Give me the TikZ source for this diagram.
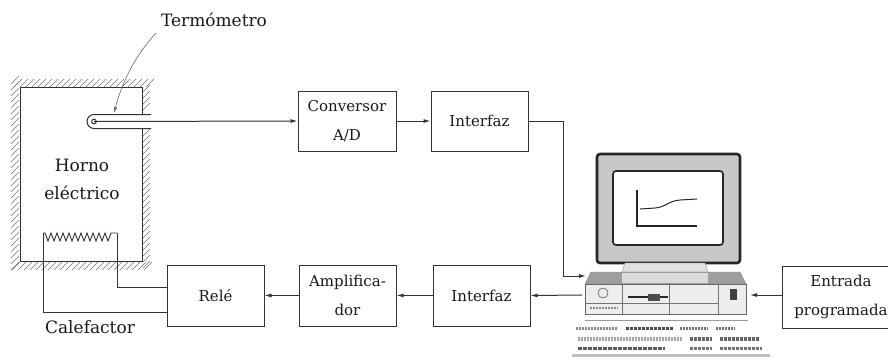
\documentclass[tikz,border=0pt]{standalone}
\usepackage{fontspec}
\setmainfont{DejaVu Serif}
\usetikzlibrary{arrows.meta}
\begin{document}
\begin{tikzpicture}[x=1pt,y=-1pt,
  ln/.style={draw=black!80, line width=1pt},
  blk/.style={ln, fill=white, minimum width=97pt, minimum height=60pt,
    align=center, inner sep=0pt, text=black!90,
    font=\fontsize{15}{29}\selectfont},
  sig/.style={ln, -{Latex[length=7pt,width=4pt]}},
  hatch/.style={draw=black!55, line width=0.6pt},
  lbl/.style={font=\fontsize{17}{29}\selectfont, text=black!90, inner sep=0pt, align=center},
]
\useasboundingbox (0,0) rectangle (888,360);

% ---------- furnace ----------
% hatching of the insulated walls
\foreach \y in {84,90,...,270} \draw[hatch] (11,\y) -- (19,\y-8);
\foreach \x in {14,20,...,146} \draw[hatch] (\x,87) -- (\x+8,79);
\foreach \y in {92,98,...,112} \draw[hatch] (143,\y) -- (150,\y-7);
\foreach \y in {136,142,...,270} \draw[hatch] (143,\y) -- (150,\y-7);
\foreach \x in {12,18,...,144} \draw[hatch] (\x,270) -- (\x+8,262);
% inner walls, with an opening for the probe
\draw[ln] (142,114) -- (142,87) -- (20,87) -- (20,261) -- (142,261) -- (142,129);
\node[lbl] (oven) at (82,179) {Horno\\[-1pt]eléctrico};

% thermometer probe
\coordinate (probe) at (94,121.5);
\draw[ln] (151,114.5) -- (94,114.5) arc[start angle=90, end angle=270, radius=7pt] -- (151,128.5);
\draw[ln, fill=white] (probe) circle (2.3pt);

% heating element
\coordinate (hA) at (43,233);
\coordinate (hB) at (117,233);
\draw[ln, line width=0.9pt] (hA) -- (45,233)
  \foreach \i in {0,...,10} { -- (48+6*\i,241) -- (51+6*\i,233) } -- (hB);

% ---------- blocks ----------
\node[blk, minimum width=98pt] (conv) at (347,121) {Conversor\\A/D};
\node[blk] (if1) at (479.5,121) {Interfaz};
\node[blk, minimum height=61pt] (rele) at (215.5,295.5) {Relé};
\node[blk, minimum height=61pt] (amp) at (347.5,295.5) {Amplifica-\\dor};
\node[blk, minimum height=61pt] (if2) at (481.5,295.5) {Interfaz};
\node[blk, minimum width=118pt, minimum height=62pt] (ent) at (841,297) {Entrada\\programada};

% labels
\node[lbl] (term) at (214,20) {Termómetro};
\node[lbl] (cal) at (90,327) {Calefactor};
\coordinate (tstart) at (156,33);
\coordinate (tend) at (114,113);
\draw[draw=black!60, line width=0.6pt, -{Latex[length=6pt,width=3.5pt]}]
  (tstart) .. controls (133,58) and (121,86) .. (tend);

% ---------- computer ----------
% monitor
\draw[line width=2.6pt, draw=black!85, fill=black!22, rounded corners=3pt] (597,154) rectangle (740,263);
\draw[line width=1.6pt, draw=black!85, fill=white, rounded corners=3pt] (613,171) rectangle (723,245);
\draw[line width=1.4pt, draw=black!85] (637,190) -- (637,226) -- (697,226);
\draw[line width=1pt, draw=black!85] (640,209) -- (655,208) .. controls (666,207) and (668,201) .. (680,200) -- (697,199);
% stand
\filldraw[fill=black!12, draw=black!40] (625,263) -- (705,263) -- (708,272) -- (622,272) -- cycle;
% system unit
\filldraw[fill=black!38, draw=black!50] (585,284) -- (591,272) -- (740,272) -- (746,284) -- cycle;
\fill[black!14] (622,273) rectangle (708,283);
\filldraw[fill=black!7, draw=black!60, line width=1pt] (585,284) rectangle (746,314);
\draw[black!55, line width=0.8pt] (622,284) -- (622,314) (669,284) -- (669,314) (718,284) -- (718,314)
  (585,303) -- (718,303);
\draw[black!55, line width=0.8pt] (603,293) circle (5pt);
\draw[black!45, line width=1.5pt, dash pattern=on 2pt off 1pt] (590,308) -- (618,308);
\draw[black!85, line width=2pt] (628,297) -- (668,297);
\fill[black!70] (648,294) rectangle (660,301);
\fill[black!75] (730,289) rectangle (737,300);
% keyboard
\draw[black!40, line width=0.7pt] (585,320) -- (748,320);
\draw[black!45, line width=3pt, dash pattern=on 2pt off 1pt] (576,328) -- (618,328);
\draw[black!70, line width=3pt, dash pattern=on 3pt off 1pt] (626,328) -- (673,328);
\draw[black!55, line width=3pt, dash pattern=on 2pt off 1pt] (680,328) -- (708,328) (716,328) -- (735,328);
\draw[black!35, line width=3.5pt, dash pattern=on 2pt off 1pt] (578,339) -- (682,339);
\draw[black!60, line width=3.5pt, dash pattern=on 3pt off 1pt] (690,339) -- (712,339) (720,339) -- (760,339);
\draw[black!65, line width=3pt, dash pattern=on 4pt off 1pt] (578,348) -- (665,348);
\draw[black!55, line width=3pt, dash pattern=on 3pt off 1pt] (690,348) -- (712,348) (720,348) -- (762,348);
\draw[black!25, line width=3pt] (572,355) -- (770,355);

\coordinate (pcin) at (586,276);
\coordinate (pcbend) at (563,276);
\coordinate (pcL) at (582,295);
\coordinate (pcR) at (750,295);

% ---------- signal paths ----------
\draw[sig] (probe) -- (conv.west);
\draw[sig] (conv.east) -- (if1.west);
\draw[sig] (if1.east) -| (pcbend) -- (pcin);
\draw[sig] (pcL) -- (if2.east);
\draw[sig] (if2.west) -- (amp.east);
\draw[sig] (amp.west) -- (rele.east);
\draw[sig] (ent.west |- pcR) -- (pcR);
\draw[ln] (hB) |- ([yshift=8.5pt]rele.west);
\draw[ln] (hA) |- ([yshift=-16.5pt]rele.west);
\end{tikzpicture}
\end{document}
